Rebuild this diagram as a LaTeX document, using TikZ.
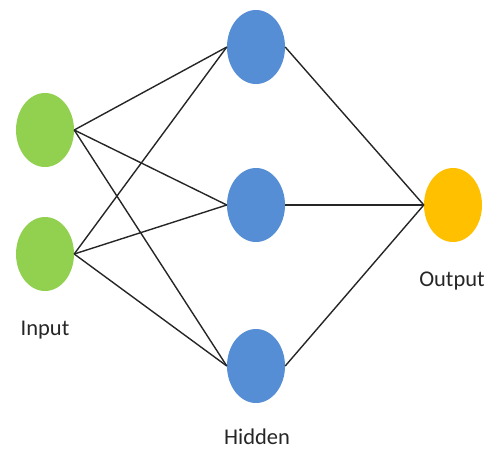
\documentclass[tikz,border=0pt]{standalone}
\usepackage{fontspec}
\setmainfont{Carlito}
\usetikzlibrary{shapes.geometric}
\definecolor{inputgreen}{RGB}{146,208,80}
\definecolor{hiddenblue}{RGB}{85,142,213}
\definecolor{outputgold}{RGB}{255,192,0}
\tikzset{
  neuron/.style={ellipse,minimum width=58pt,minimum height=74pt,inner sep=0pt},
  synapse/.style={draw=black!85,line width=1.4pt},
  layerlabel/.style={font=\fontsize{22.5}{26}\selectfont,text=black!85}
}

\begin{document}
\begin{tikzpicture}[x=1pt,y=-1pt]
  \useasboundingbox (0,0) rectangle (489,450);
  % layers
  \node[neuron,fill=inputgreen] (in1) at (45,130) {};
  \node[neuron,fill=inputgreen] (in2) at (45,254) {};
  \foreach \n/\y in {1/47,2/205,3/366} { \node[neuron,fill=hiddenblue] (h\n) at (256,\y) {}; }
  \node[neuron,fill=outputgold] (out) at (453,205) {};
  % connections
  \foreach \i in {1,2} { \foreach \n in {1,2,3} { \draw[synapse] (in\i.east) -- (h\n.west); } }
  \foreach \n in {1,2,3} { \draw[synapse] (h\n.east) -- (out.west); }
  \node[layerlabel] (inlbl) at (45,330) {Input};
  \node[layerlabel] (hidlbl) at (257,437) {Hidden};
  \node[layerlabel] (outlbl) at (452,281) {Output};
\end{tikzpicture}
\end{document}
